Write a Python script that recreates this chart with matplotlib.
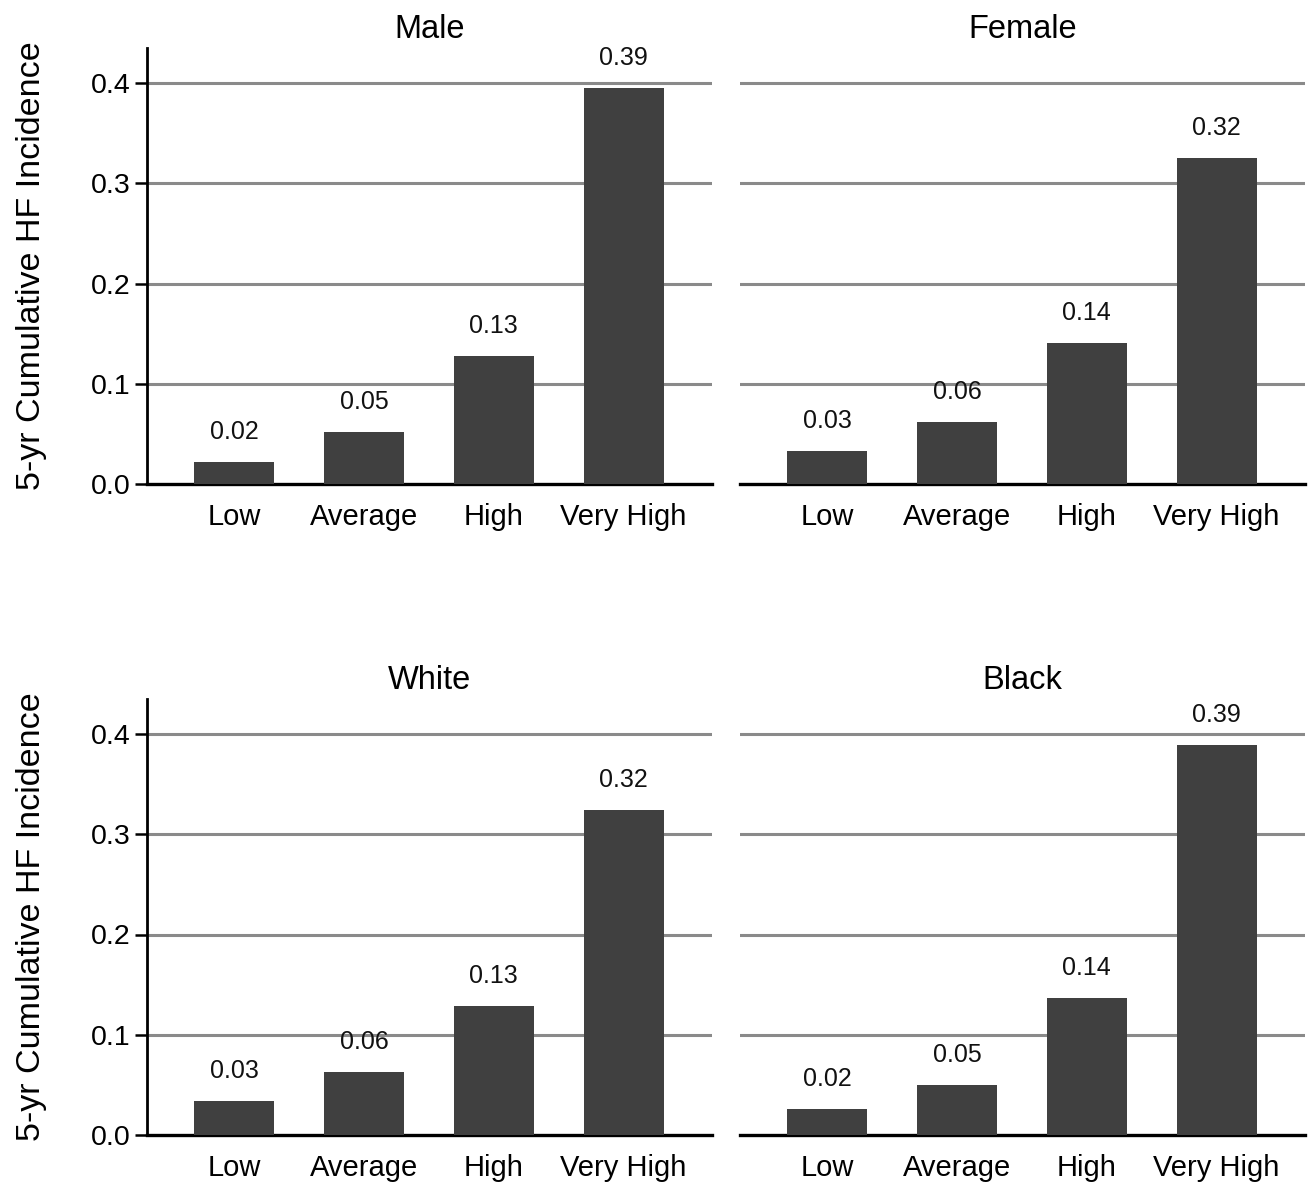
import numpy as np
import matplotlib
matplotlib.use("Agg")
import matplotlib.pyplot as plt

plt.rcParams['font.family'] = ['Liberation Sans', 'DejaVu Sans']

categories = ["Low", "Average", "High", "Very High"]
panels = ["Male", "Female", "White", "Black"]
heights = {
    "Male":   [0.022, 0.052, 0.128, 0.395],
    "Female": [0.033, 0.062, 0.141, 0.325],
    "White":  [0.034, 0.063, 0.129, 0.324],
    "Black":  [0.026, 0.050, 0.137, 0.389],
}
labels = {
    "Male":   ["0.02", "0.05", "0.13", "0.39"],
    "Female": ["0.03", "0.06", "0.14", "0.32"],
    "White":  ["0.03", "0.06", "0.13", "0.32"],
    "Black":  ["0.02", "0.05", "0.14", "0.39"],
}
yticks = [0.0, 0.1, 0.2, 0.3, 0.4]

W, H = 1315, 1184
fig = plt.figure(figsize=(W / 100, H / 100), dpi=100)

lefts = [147, 740]
bottoms = [484, 1135]
aw = 565
ymax = 0.435
ah = ymax * 1002.5

x = np.arange(len(categories))
for i, name in enumerate(panels):
    r, c = divmod(i, 2)
    ax = fig.add_axes([lefts[c] / W, 1 - bottoms[r] / H, aw / W, ah / H])
    ax.bar(x, heights[name], width=0.615, color="#404040", zorder=3)
    for xi, h, t in zip(x, heights[name], labels[name]):
        ax.annotate(t, (xi, h), xytext=(0, 21.5), textcoords="offset points",
                    ha="center", va="center", fontsize=18, color="#111111")
    ax.set_xlim(-0.67, 3.68)
    ax.set_ylim(0, ymax)
    ax.set_yticks(yticks)
    ax.set_yticklabels([f"{v:.1f}" for v in yticks])
    for v in yticks[1:]:
        ax.axhline(v, color="#8a8a8a", lw=2.2, zorder=1)
    ax.set_xticks(x)
    ax.set_xticklabels(categories)
    ax.tick_params(axis="x", length=0, pad=14, labelsize=21)
    ax.tick_params(axis="y", length=9, width=1.8, labelsize=20.5, pad=3)
    ax.spines["top"].set_visible(False)
    ax.spines["right"].set_visible(False)
    ax.spines["bottom"].set_linewidth(2.4)
    ax.spines["left"].set_linewidth(2.0)
    if c == 1:
        ax.spines["left"].set_visible(False)
        ax.tick_params(axis="y", left=False, labelleft=False)
    ax.set_title(name, fontsize=23.5, pad=7)
    if c == 0:
        yc = 1 - (bottoms[r] - ah / 2) / H
        fig.text(32 / W, yc, "5-yr Cumulative HF Incidence", rotation=90,
                 ha="center", va="center", fontsize=24.5)

fig.savefig("out.png", dpi=100)
